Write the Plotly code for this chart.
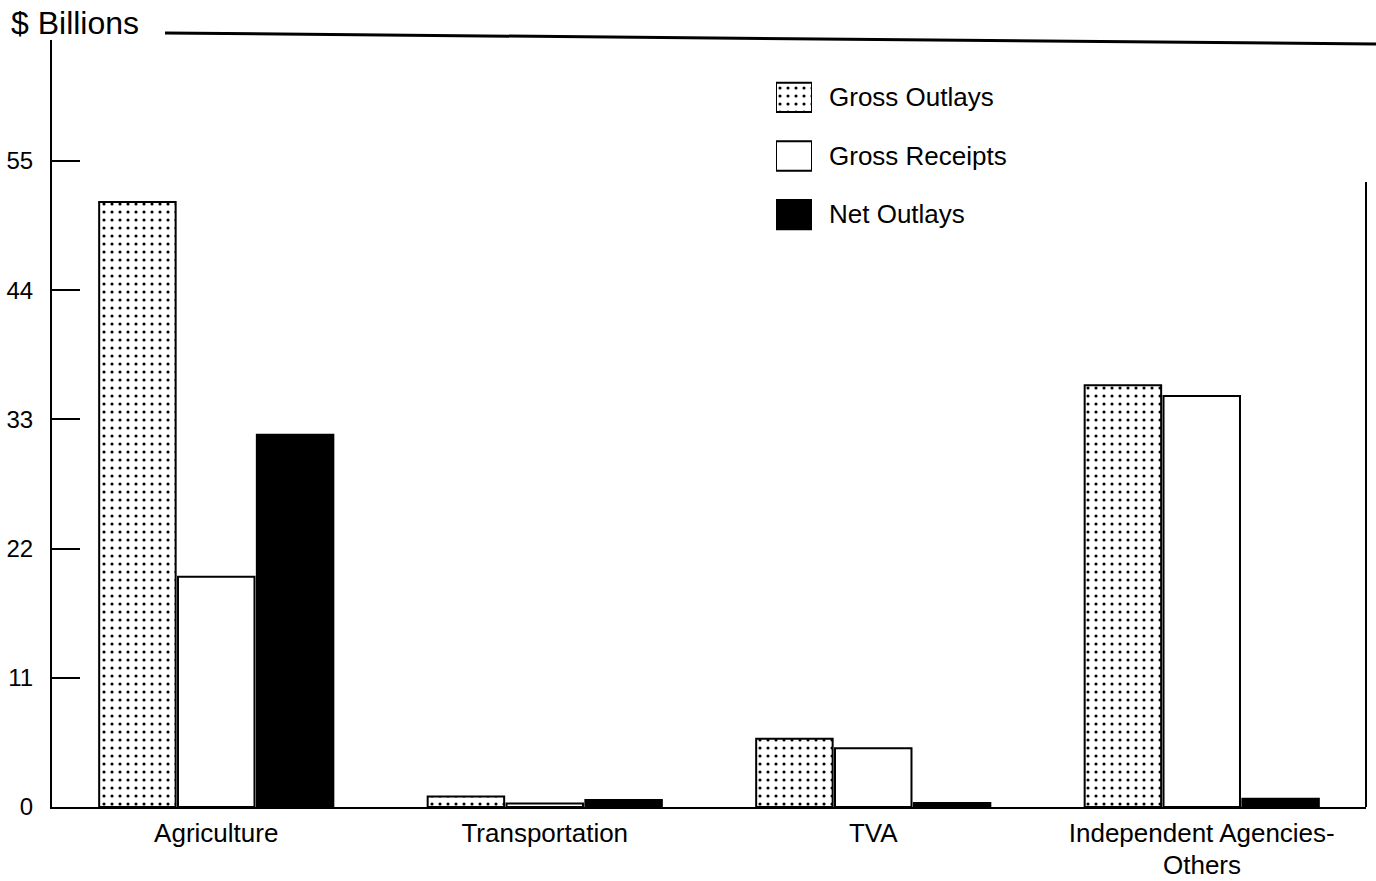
import plotly.graph_objects as go

categories = ["Agriculture", "Transportation", "TVA", "Independent Agencies-<br>Others"]
tick_text = ["Agriculture", "Transportation", "TVA", "Independent Agencies-"]
second_line = "Others"
gross_outlays = [51.5, 0.9, 5.8, 35.9]
gross_receipts = [19.6, 0.3, 5.0, 35.0]
net_outlays = [31.7, 0.6, 0.35, 0.7]
series_names = ["Gross Outlays", "Gross Receipts", "Net Outlays"]
tick_vals = [0, 11, 22, 33, 44, 55]

FONT = "Liberation Sans, Arial, Helvetica, sans-serif"
W, H = 1376, 881
# plot area on screen: x 52..1366, y 40..807 (body margin removed below)
SL, SR, ST, SB = 52, 1366, 40, 807
L, T, R, B = SL, ST, W - SR, H - SB
pw = SR - SL
ph = SB - ST

def px_x(x):
    return (x - SL) / pw

def px_y(y):
    return (SB - y) / ph

dot_pattern = dict(shape=".", fgcolor="black", bgcolor="white", size=8, solidity=0.12, fillmode="replace")
styles = [
    dict(color="white", line=dict(color="black", width=2), pattern=dot_pattern),
    dict(color="white", line=dict(color="black", width=2)),
    dict(color="black", line=dict(color="black", width=2)),
]

fig = go.Figure()
for name, vals, st in zip(series_names, [gross_outlays, gross_receipts, net_outlays], styles):
    fig.add_trace(go.Bar(x=categories, y=vals, name=name, marker=st, showlegend=False))

# custom legend swatches on an overlay axis
for i, (name, st) in enumerate(zip(series_names, styles)):
    fig.add_trace(go.Bar(x=[1], y=[i], orientation="h", marker=st, width=0.5, offset=-0.25,
                         offsetgroup="leg", xaxis="x2", yaxis="y2", showlegend=False, hoverinfo="skip"))

fig.update_layout(
    width=W, height=H,
    margin=dict(l=L, r=R, t=T, b=B, autoexpand=False),
    paper_bgcolor="white", plot_bgcolor="white",
    font=dict(family=FONT, size=24, color="black"),
    barmode="group", bargap=0.28, bargroupgap=0.03,
    xaxis=dict(showline=True, linecolor="black", linewidth=2, ticks="", showgrid=False,
               tickmode="array", tickvals=categories, ticktext=tick_text,
               tickfont=dict(size=26), ticklabelstandoff=2, fixedrange=True, automargin=False),
    yaxis=dict(range=[0, 65.3], tickvals=tick_vals, ticks="inside", ticklen=28, tickwidth=2,
               tickcolor="black", showline=True, linecolor="black", linewidth=2, showgrid=False,
               zeroline=False, tickfont=dict(size=24), ticklabelstandoff=12, automargin=False),
    xaxis2=dict(domain=[px_x(776), px_x(812)], range=[0, 1], visible=False, anchor="y2"),
    yaxis2=dict(domain=[px_y(244), px_y(68)], range=[2.5, -0.5], visible=False, anchor="x2"),
)

# second line of the last category label
fig.add_annotation(text=second_line, xref="x", yref="paper", x=categories[3], y=px_y(865),
                   xanchor="center", yanchor="middle", showarrow=False, font=dict(size=26))

# legend text
for i, name in enumerate(series_names):
    fig.add_annotation(text=name, xref="paper", yref="paper", x=px_x(827), y=px_y(97 + 58.5 * i),
                       xanchor="left", yanchor="middle", showarrow=False, font=dict(size=26))

# axis title
fig.add_annotation(text="$ Billions", xref="paper", yref="paper", x=px_x(9), y=px_y(23),
                   xanchor="left", yanchor="middle", showarrow=False, font=dict(size=32))

# top frame line and right frame line
fig.add_shape(type="line", xref="paper", yref="paper", x0=px_x(165), y0=px_y(33), x1=px_x(1376), y1=px_y(44),
              line=dict(color="black", width=3))
fig.add_shape(type="line", xref="paper", yref="paper", x0=1, y0=0, x1=1, y1=px_y(182),
              line=dict(color="black", width=2))

fig.write_html("out.html", config={"displayModeBar": False},
               post_script="document.body.style.margin='0';")
